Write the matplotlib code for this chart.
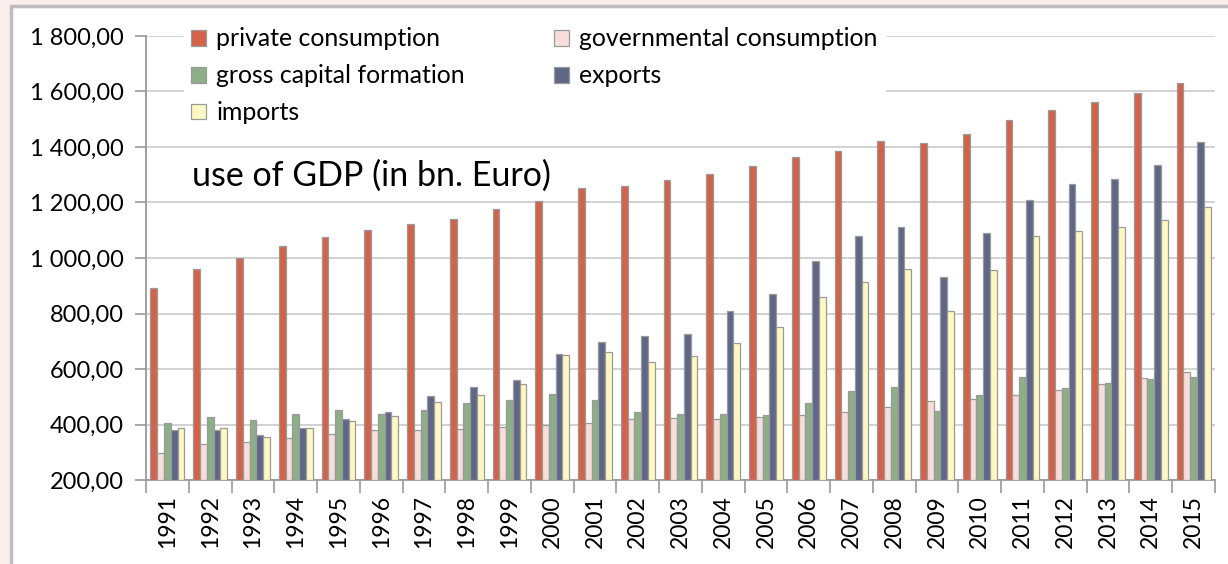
import numpy as np
import matplotlib
matplotlib.use("Agg")
import matplotlib.pyplot as plt
from matplotlib.patches import Rectangle
from matplotlib.ticker import FuncFormatter, FixedLocator

years = [str(y) for y in range(1991, 2016)]
private_consumption = [891, 960, 1000, 1043, 1076, 1101, 1123, 1141, 1177, 1205,
                       1252, 1258, 1281, 1303, 1332, 1364, 1386, 1420, 1415, 1447,
                       1497, 1533, 1561, 1595, 1631]
governmental_consumption = [296, 329, 338, 351, 366, 379, 379, 383, 392, 398,
                            405, 420, 425, 419, 426, 434, 444, 462, 486, 493,
                            507, 525, 545, 568, 590]
gross_capital_formation = [407, 426, 415, 439, 452, 439, 452, 476, 489, 509,
                           489, 444, 439, 439, 434, 476, 522, 535, 448, 508,
                           572, 530, 550, 563, 572]
exports = [379, 379, 361, 389, 420, 444, 504, 536, 560, 655,
           698, 720, 725, 809, 869, 989, 1080, 1113, 933, 1090,
           1210, 1267, 1285, 1335, 1419]
imports = [389, 389, 355, 389, 411, 431, 480, 507, 545, 652,
           660, 624, 646, 694, 752, 860, 915, 960, 808, 956,
           1080, 1098, 1113, 1136, 1183]

series_names = ["private consumption", "governmental consumption",
                "gross capital formation", "exports", "imports"]
colors = ["#D3624A", "#F6DEDA", "#8DAE88", "#5F6787", "#FFF8C2"]

plt.rcParams['font.family'] = ['Lato', 'DejaVu Sans']

fig = plt.figure(figsize=(12.28, 5.64), dpi=100)
fig.patch.set_facecolor("#FBEFED")
W, H = 1228, 564

bg = fig.add_axes([0, 0, 1, 1], zorder=-10)
bg.set_xlim(0, W)
bg.set_ylim(H, 0)
bg.axis("off")
bg.add_patch(Rectangle((11, 6), W + 50, H + 50, facecolor="white",
                       edgecolor="#BDBDBD", linewidth=2.5))

ax = fig.add_axes([146 / W, 1 - 480 / H, (1215 - 146) / W, (480 - 36) / H], zorder=1)
ax.set_facecolor("none")

x = np.arange(len(years))
w = 0.158
data = [private_consumption, governmental_consumption, gross_capital_formation, exports, imports]
bars = []
for k, (vals, col, name) in enumerate(zip(data, colors, series_names)):
    b = ax.bar(x + (k - 2) * w, np.array(vals) - 200, bottom=200, width=w, color=col,
               edgecolor="#9A9A9A", linewidth=0.9, label=name, zorder=3)
    bars.append(b)

ax.set_ylim(200, 1800)
ax.set_xlim(-0.5, len(years) - 0.5)
ax.set_yticks(np.arange(200, 1801, 200))

def fmt(v, pos):
    s = f"{v:,.2f}"
    return s.replace(",", " ").replace(".", ",")
ax.yaxis.set_major_formatter(FuncFormatter(fmt))
ax.grid(axis="y", color="#CFCFCF", linewidth=1.3, zorder=0)
ax.set_axisbelow(True)

ax.set_xticks(x)
ax.set_xticklabels(years, rotation=90, fontsize=16.5)
ax.xaxis.set_minor_locator(FixedLocator(np.arange(-0.5, len(years), 1)))
ax.tick_params(axis="x", which="major", length=0, pad=11)
ax.tick_params(axis="x", which="minor", length=9, color="#9A9A9A", width=1.2)
ax.tick_params(axis="y", length=8, color="#9A9A9A", width=1.2, labelsize=17, pad=8)

for s in ["top", "right"]:
    ax.spines[s].set_visible(False)
for s in ["left", "bottom"]:
    ax.spines[s].set_color("#9A9A9A")
    ax.spines[s].set_linewidth(1.3)

order = [0, 2, 4, 1, 3]
handles = [bars[i] for i in order]
labels = [series_names[i] for i in order]
leg = ax.legend(handles, labels, ncol=2, loc="upper left",
                bbox_to_anchor=((184 - 146) / (1215 - 146), 1 + 16 / 444),
                borderaxespad=0,
                fontsize=17.9, frameon=True, fancybox=False, framealpha=1,
                edgecolor="white", facecolor="white", handlelength=0.6,
                handleheight=0.6, handletextpad=0.4, columnspacing=3.6,
                labelspacing=0.56, borderpad=0.3)
leg.set_zorder(5)

fig.text(192 / W, 1 - 176 / H, "use of GDP (in bn. Euro)",
         fontsize=24.5, va="center", ha="left", color="black", zorder=6)

fig.savefig("out.png", dpi=100, facecolor=fig.get_facecolor())
